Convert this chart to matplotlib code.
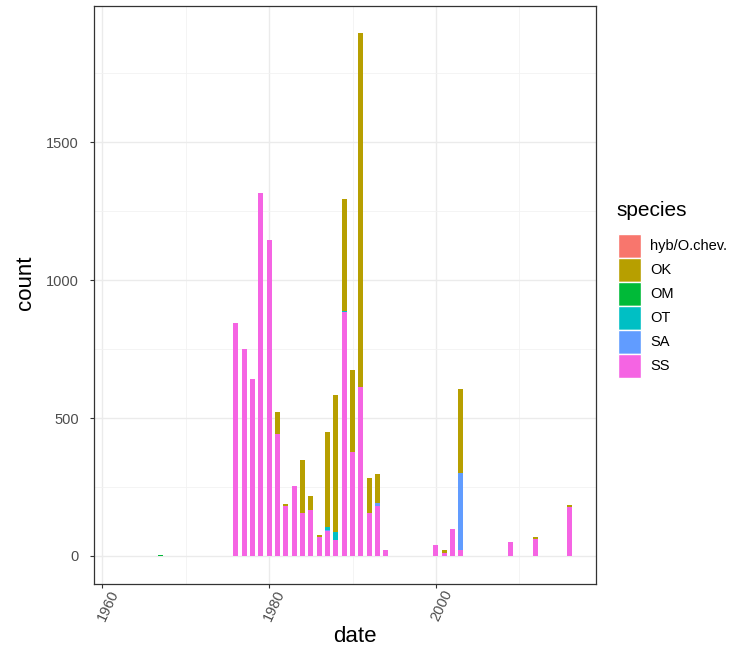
import matplotlib
matplotlib.use("Agg")
import matplotlib.pyplot as plt
import matplotlib.transforms as mtransforms
from matplotlib.patches import Rectangle
from matplotlib.ticker import MultipleLocator

plt.rcParams["font.family"] = ["Liberation Sans", "DejaVu Sans"]

# data
years = [1967, 1976, 1977, 1978, 1979, 1980, 1981, 1982, 1983, 1984, 1985, 1986, 1987,
         1988, 1989, 1990, 1991, 1992, 1993, 1994, 2000, 2001, 2002, 2003, 2009, 2012, 2016]
ss = [0, 845, 752, 640, 1315, 1145, 441, 181, 252, 155, 168, 68, 92,
      56, 885, 378, 611, 155, 182, 21, 41, 10, 96, 21, 50, 62, 179]
sa = [0, 0, 0, 0, 0, 0, 0, 0, 0, 0, 0, 0, 3,
      0, 0, 0, 0, 0, 10, 0, 0, 0, 0, 280, 0, 0, 0]
ot = [0, 0, 0, 0, 0, 0, 0, 0, 0, 0, 0, 0, 9,
      32, 3, 0, 0, 0, 0, 0, 0, 0, 0, 0, 0, 0, 0]
om = [4, 0, 0, 0, 0, 0, 0, 0, 0, 0, 0, 0, 0,
      0, 0, 0, 0, 0, 0, 0, 0, 0, 0, 0, 0, 0, 0]
ok = [0, 0, 0, 0, 0, 0, 82, 7, 0, 193, 50, 8, 344,
      494, 407, 296, 1284, 129, 104, 0, 0, 11, 0, 306, 0, 5, 5]
hyb = [0] * len(years)

species = ["hyb/O.chev.", "OK", "OM", "OT", "SA", "SS"]
colors = ["#F8766D", "#B79F00", "#00BA38", "#00BFC4", "#619CFF", "#F564E3"]

fig = plt.figure(figsize=(7.3, 6.52), dpi=100)
ax = fig.add_axes([93.5 / 730, 68.5 / 652, 502.5 / 730, 578 / 652])

# stack from the bottom: SS, SA, OT, OM, OK, hyb (ggplot order)
stack = [(ss, colors[5]), (sa, colors[4]), (ot, colors[3]), (om, colors[2]),
         (ok, colors[1]), (hyb, colors[0])]
bottom = [0] * len(years)
for vals, c in stack:
    ax.bar(years, vals, width=0.6, bottom=bottom, color=c, linewidth=0)
    bottom = [b + v for b, v in zip(bottom, vals)]

ax.set_xlim(1958.94, 2019.2)
ax.set_ylim(-100, 1996)
ax.xaxis.set_major_locator(MultipleLocator(20))
ax.xaxis.set_minor_locator(MultipleLocator(10))
ax.yaxis.set_major_locator(MultipleLocator(500))
ax.yaxis.set_minor_locator(MultipleLocator(250))
ax.set_axisbelow(True)
ax.grid(which="major", color="#EBEBEB", linewidth=1.0)
ax.grid(which="minor", color="#F2F2F2", linewidth=0.6)
ax.tick_params(which="minor", length=0)
ax.tick_params(axis="y", which="major", length=2.9, color="#333333", width=0.8,
               pad=7.5, labelsize=10.5, labelcolor="#4D4D4D")
ax.tick_params(axis="x", which="major", length=2.7, color="#333333", width=0.8,
               pad=0.5, labelsize=10.5, labelcolor="#4D4D4D")
for s in ax.spines.values():
    s.set_color("#333333")
    s.set_linewidth(0.9)
shift = mtransforms.ScaledTranslation(6 / 100, 0, fig.dpi_scale_trans)
for lab in ax.get_xticklabels():
    lab.set_rotation(65)
    lab.set_ha("right")
    lab.set_va("top")
    lab.set_rotation_mode("anchor")
    lab.set_transform(lab.get_transform() + shift)

# axis titles placed like the reference
fig.text(355 / 730, 1 - 637 / 652, "date", fontsize=16, ha="center", va="center")
fig.text(25 / 730, 1 - 283 / 652, "count", fontsize=16, ha="center", va="center",
         rotation=90)

# legend drawn by hand to place keys like ggplot
fig.text(616 / 730, 1 - 216 / 652, "species", fontsize=15, ha="left", va="baseline")
for i, (name, c) in enumerate(zip(species, colors)):
    y0 = 234 + i * 24
    fig.patches.append(Rectangle((618 / 730, 1 - (y0 + 24) / 652), 23 / 730, 24 / 652,
                                 transform=fig.transFigure, facecolor=c,
                                 edgecolor="white", linewidth=1))
    fig.text(650 / 730, 1 - (y0 + 12) / 652, name, fontsize=10.5, ha="left", va="center")

fig.savefig("out.png", dpi=100)
